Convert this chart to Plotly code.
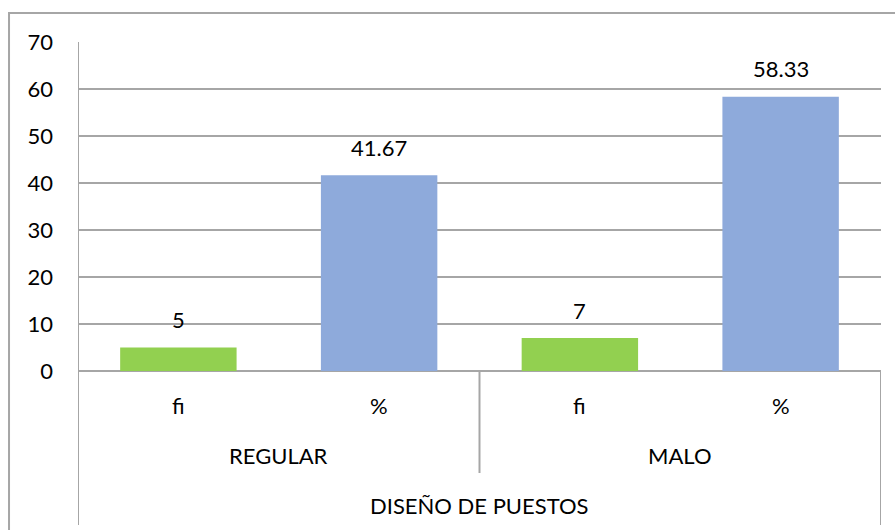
import plotly.graph_objects as go

# Chart data
groups = ["REGULAR", "MALO"]
measures = ["fi", "%"]
values = [5, 41.67, 7, 58.33]
bar_colors = ["#92D050", "#8EAADB", "#92D050", "#8EAADB"]
axis_title = "DISEÑO DE PUESTOS"
y_ticks = [0, 10, 20, 30, 40, 50, 60, 70]

FONT = "Lato, Carlito, Calibri, sans-serif"
FSIZE = 22
GRID = "#A6A6A6"

positions = list(range(len(values)))

fig = go.Figure(go.Bar(
    x=positions,
    y=values,
    width=0.58,
    marker=dict(color=bar_colors, line=dict(width=0)),
    hoverinfo="skip",
))

annotations = []
# value labels above bars
for x, v in zip(positions, values):
    annotations.append(dict(
        x=x, y=v, xref="x", yref="y", text=f"{v:g}", showarrow=False,
        yshift=28, font=dict(size=FSIZE, color="#000000", family=FONT),
    ))

# first level category labels (fi / %)
for i, x in enumerate(positions):
    annotations.append(dict(
        x=x, y=-0.152, xref="x", yref="paper", text=measures[i % len(measures)],
        showarrow=False, font=dict(size=FSIZE, color="#000000", family=FONT),
    ))

# second level category labels (groups)
for g, name in enumerate(groups):
    annotations.append(dict(
        x=g * 2 + 0.5, y=-0.304, xref="x", yref="paper", text=name,
        showarrow=False, font=dict(size=FSIZE, color="#000000", family=FONT),
    ))

# axis title level
annotations.append(dict(
    x=1.5, y=-0.456, xref="x", yref="paper", text=axis_title,
    showarrow=False, font=dict(size=FSIZE, color="#000000", family=FONT),
))

shapes = [
    # left boundary running down through the category area
    dict(type="line", xref="x", yref="paper", x0=-0.5, x1=-0.5, y0=1, y1=-0.468,
         line=dict(color=GRID, width=2)),
    # right boundary under the plot
    dict(type="line", xref="x", yref="paper", x0=3.5, x1=3.5, y0=0, y1=-0.468,
         line=dict(color=GRID, width=2)),
    # separator between groups
    dict(type="line", xref="x", yref="paper", x0=1.5, x1=1.5, y0=0, y1=-0.31,
         line=dict(color=GRID, width=2)),
    # outer chart border
    dict(type="rect", xref="paper", yref="paper", x0=-0.0859, x1=1.2, y0=1.088, y1=-0.7,
         line=dict(color=GRID, width=2), fillcolor="rgba(0,0,0,0)", layer="below"),
]

fig.update_layout(
    width=895,
    height=530,
    margin=dict(l=78, r=14, t=42, b=159),
    paper_bgcolor="#FFFFFF",
    plot_bgcolor="#FFFFFF",
    showlegend=False,
    font=dict(family=FONT, size=FSIZE, color="#000000"),
    annotations=annotations,
    shapes=shapes,
    xaxis=dict(
        range=[-0.5, 3.5], showticklabels=False, showgrid=False,
        zeroline=False, showline=False, ticks="", fixedrange=True,
    ),
    yaxis=dict(
        range=[0, 70], tickvals=y_ticks, showgrid=True, gridcolor=GRID, gridwidth=2,
        zeroline=True, zerolinecolor=GRID, zerolinewidth=2, showline=False,
        ticks="", ticklabelstandoff=24,
        tickfont=dict(size=FSIZE, color="#000000", family=FONT), fixedrange=True,
    ),
)

fig.write_html("out.html")
